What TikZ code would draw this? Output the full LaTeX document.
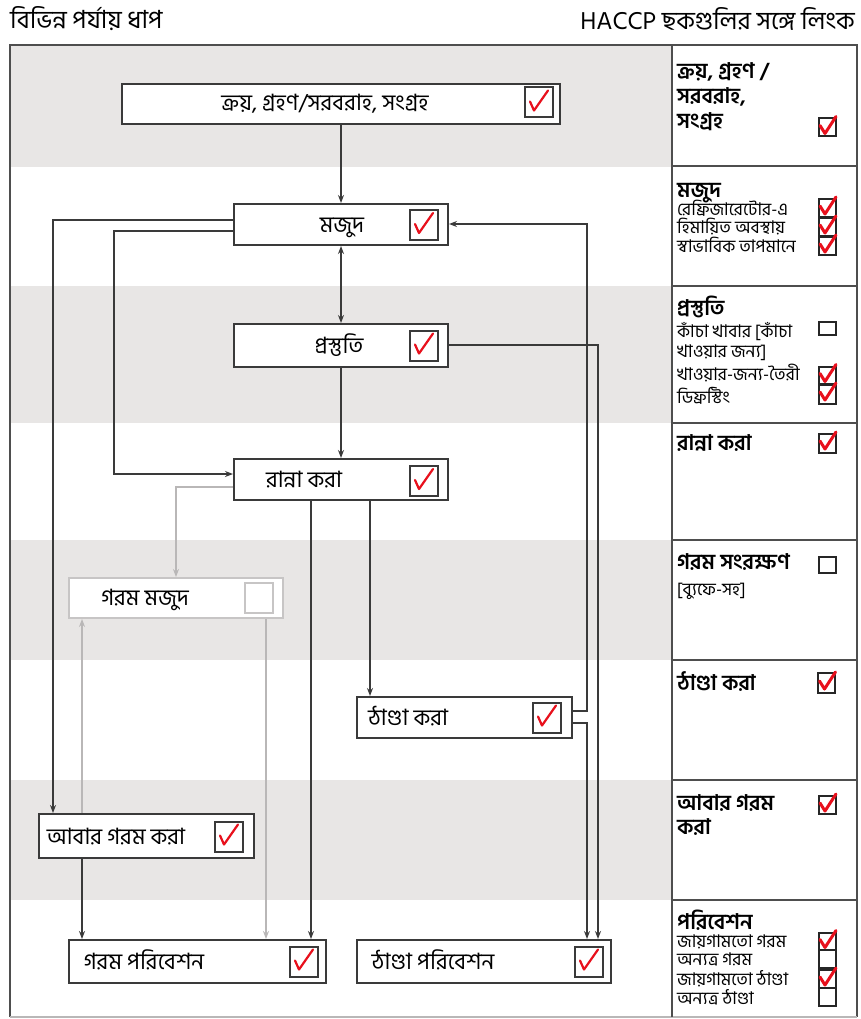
\documentclass[tikz,border=0pt]{standalone}
\usepackage{fontspec}
\setmainfont{Hind Siliguri}[Script=Bengali]
\usetikzlibrary{arrows.meta,calc}
\definecolor{band}{HTML}{E8E6E5}
\definecolor{ink}{HTML}{3A3A3A}
\definecolor{pale}{HTML}{B9B7B7}
\definecolor{chkred}{HTML}{E8101C}
\newcommand\bchk[1]{\draw[bigtick] ([shift={(-9,-1)}]#1.center) -- ([shift={(-5,8)}]#1.center) -- ([shift={(9,-12)}]#1.center);}
\newcommand\schk[1]{\draw[smalltick] ([shift={(-7,-2)}]#1.center) -- ([shift={(-2,6)}]#1.center) -- ([shift={(9,-11)}]#1.center);}
\tikzset{
 flowbox/.style={draw=ink, line width=2.4pt, fill=white, inner sep=0pt, outer sep=1pt},
 palebox/.style={draw=pale!80, line width=2pt, fill=white, inner sep=0pt, outer sep=1pt},
 cbox/.style={draw=ink, line width=2pt, fill=white, minimum width=28pt, minimum height=30pt, inner sep=0pt},
 pcbox/.style={cbox, draw=pale!80},
 btxt/.style={anchor=base, inner sep=0pt, font=\fontsize{22.5}{26}\selectfont},
 conn/.style={draw=ink, line width=1.7pt, -{Stealth[length=8pt,width=6pt]}},
 pconn/.style={draw=pale, line width=1.4pt, -{Stealth[length=8pt,width=6pt]}},
 bigtick/.style={draw=chkred, line width=2.2pt, line cap=round, line join=round},
 smalltick/.style={draw=chkred, line width=3pt, line cap=round, line join=round},
 rtxt/.style={anchor=base west, inner sep=0pt, font=\fontsize{17.5}{19}\selectfont},
 rhead/.style={anchor=base west, inner sep=0pt, font=\bfseries\fontsize{21.5}{24}\selectfont},
 sbox/.style={draw=black!85, line width=2pt, minimum width=17pt, minimum height=17pt, inner sep=0pt},
 frame/.style={draw=ink!90, line width=2.2pt},
 htxt/.style={inner sep=0pt, font=\fontsize{25}{28}\selectfont},
}
\begin{document}
\begin{tikzpicture}[x=1pt,y=-1pt]
\useasboundingbox (0,0) rectangle (861,1019);
\fill[white] (0,0) rectangle (861,1019);
% bands
\foreach \a/\b in {45/167,286/423,540/660,780/900}{\fill[band] (10,\a) rectangle (672,\b);}
% headers
\node[htxt, anchor=base west] (h1) at (10,29) {বিভিন্ন পর্যায় ধাপ};
\node[htxt, anchor=base east] (h2) at (855,30) {HACCP ছকগুলির সঙ্গে লিংক};
% frame
\draw[frame] (10,1017) -- (10,45) -- (857,45) -- (857,1017);
\draw[draw=pale, line width=1.5pt] (10,1017) -- (857,1017);
\draw[frame, line width=2.6pt] (672,45) -- (672,1017);
\foreach \y in {166,286,423,540,660,780,900}{\draw[frame] (672,\y) -- (857,\y);}
% flow boxes
\node[flowbox, minimum width=438pt, minimum height=40pt] (b1) at (341,104) {};
\node[flowbox, minimum width=214pt, minimum height=41pt] (b2) at (341,224.5) {};
\node[flowbox, minimum width=214pt, minimum height=43pt] (b3) at (341,345.5) {};
\node[flowbox, minimum width=214pt, minimum height=41pt] (b4) at (341,479.5) {};
\node[palebox, minimum width=214pt, minimum height=40pt] (b5) at (176,598) {};
\node[flowbox, minimum width=215pt, minimum height=41pt] (b6) at (464.5,717.5) {};
\node[flowbox, minimum width=215pt, minimum height=44pt] (b7) at (146.5,836) {};
\node[flowbox, minimum width=257pt, minimum height=43pt] (b8) at (197.5,961.5) {};
\node[flowbox, minimum width=254pt, minimum height=43pt] (b9) at (484,961.5) {};
% texts
\node[btxt] (t1) at (325,111) {ক্রয়, গ্রহণ/সরবরাহ, সংগ্রহ};
\node[btxt] (t2) at (342,232) {মজুদ};
\node[btxt] (t3) at (339,353) {প্রস্তুতি};
\node[btxt] (t4) at (304,487) {রান্না করা};
\node[btxt] (t5) at (145,605) {গরম মজুদ};
\node[btxt] (t6) at (408,725) {ঠাণ্ডা করা};
\node[btxt] (t7) at (116,844) {আবার গরম করা};
\node[btxt] (t8) at (144,969) {গরম পরিবেশন};
\node[btxt] (t9) at (433,969) {ঠাণ্ডা পরিবেশন};
% checkboxes
\node[cbox] (k1) at (539,102.5) {};
\node[cbox] (k2) at (424,225) {};
\node[cbox] (k3) at (424,345.5) {};
\node[cbox] (k4) at (424,481) {};
\node[pcbox] (k5) at (258.5,597.5) {};
\node[cbox] (k6) at (547,717.5) {};
\node[cbox] (k7) at (229,836.5) {};
\node[cbox] (k8) at (304,961.5) {};
\node[cbox] (k9) at (589,961.5) {};
\bchk{k1}\bchk{k2}\bchk{k3}\bchk{k4}\bchk{k6}\bchk{k7}\bchk{k8}\bchk{k9}
% connectors
\draw[conn] (b1.south) -- (b2.north);
\draw[conn, {Stealth[length=8pt,width=6pt]}-{Stealth[length=8pt,width=6pt]}] (b2.south) -- (b3.north);
\draw[conn] (b3.south) -- (b4.north);
\draw[conn] (b2.west |- 0,220) -| (b7.north -| 53,0);
\draw[conn] (b2.west |- 0,231) -| (114,474) -- (b4.west |- 0,474);
\draw[conn] (b6.east |- 0,711) -| (587,224) -- (b2.east |- 0,224);
\draw[conn] (b3.east |- 0,345) -| (b9.north -| 598,0);
\draw[conn] (b6.east |- 0,723) -| (b9.north -| 587,0);
\draw[conn] (b4.south -| 311,0) -- (b8.north -| 311,0);
\draw[conn] (b4.south -| 370,0) -- (b6.north -| 370,0);
\draw[pconn] (b4.west |- 0,487) -| (b5.north -| 176,0);
\draw[pconn] (b7.north -| 82,0) -- (b5.south -| 82,0);
\draw[pconn] (b5.south -| 266,0) -- (b8.north -| 266,0);
\draw[conn] (b7.south -| 82,0) -- (b8.north -| 82,0);
% right column texts
\node[rhead] (r1a) at (677,79) {ক্রয়, গ্রহণ /};
\node[rhead] (r1b) at (677,104) {সরবরাহ,};
\node[rhead] (r1c) at (677,129) {সংগ্রহ};
\node[rhead] (r2a) at (677,197) {মজুদ};
\node[rtxt] (r2b) at (677,215) {রেফ্রিজারেটোর-এ};
\node[rtxt] (r2c) at (677,233) {হিমায়িত অবস্থায়};
\node[rtxt] (r2d) at (677,252) {স্বাভাবিক তাপমানে};
\node[rhead] (r3a) at (677,315) {প্রস্তুতি};
\node[rtxt] (r3b) at (677,337) {কাঁচা খাবার [কাঁচা};
\node[rtxt] (r3c) at (677,357) {খাওয়ার জন্য]};
\node[rtxt] (r3d) at (677,380) {খাওয়ার-জন্য-তৈরী};
\node[rtxt] (r3e) at (677,403) {ডিফ্রস্টিং};
\node[rhead] (r4a) at (677,450) {রান্না করা};
\node[rhead] (r5a) at (677,569) {গরম সংরক্ষণ};
\node[rtxt] (r5b) at (677,595) {[ব্যুফে-সহ]};
\node[rhead] (r6a) at (677,690) {ঠাণ্ডা করা};
\node[rhead] (r7a) at (677,810) {আবার গরম};
\node[rhead] (r7b) at (677,834) {করা};
\node[rhead] (r8a) at (677,929) {পরিবেশন};
\node[rtxt] (r8b) at (677,947) {জায়গামতো গরম};
\node[rtxt] (r8c) at (677,965) {অন্যত্র গরম};
\node[rtxt] (r8d) at (677,985) {জায়গামতো ঠাণ্ডা};
\node[rtxt] (r8e) at (677,1004) {অন্যত্র ঠাণ্ডা};
% right column boxes
\node[sbox, minimum height=18pt] (s1) at (827,127.5) {};
\node[sbox, minimum height=18pt] (s2a) at (827,208) {};
\node[sbox, minimum height=18pt] (s2b) at (827,227) {};
\node[sbox, minimum height=18pt] (s2c) at (827,246) {};
\node[sbox, minimum height=13pt] (s3a) at (827,328.5) {};
\node[sbox, minimum height=17pt] (s3b) at (827,375.5) {};
\node[sbox, minimum height=19pt] (s3c) at (827,394) {};
\node[sbox, minimum height=19pt] (s4) at (827,443) {};
\node[sbox, minimum height=16pt] (s5) at (827,565) {};
\node[sbox, minimum height=20pt] (s6) at (826.5,683) {};
\node[sbox, minimum height=18pt] (s7) at (827,805) {};
\node[sbox, minimum height=17pt] (s8a) at (827,941.5) {};
\node[sbox, minimum height=18pt] (s8b) at (827,959) {};
\node[sbox, minimum height=18pt] (s8c) at (827,979) {};
\node[sbox, minimum height=18pt] (s8d) at (827,997) {};
\schk{s1}\schk{s2a}\schk{s2b}\schk{s2c}\schk{s3b}\schk{s3c}\schk{s4}\schk{s6}\schk{s7}\schk{s8a}\schk{s8c}
\end{tikzpicture}
\end{document}
